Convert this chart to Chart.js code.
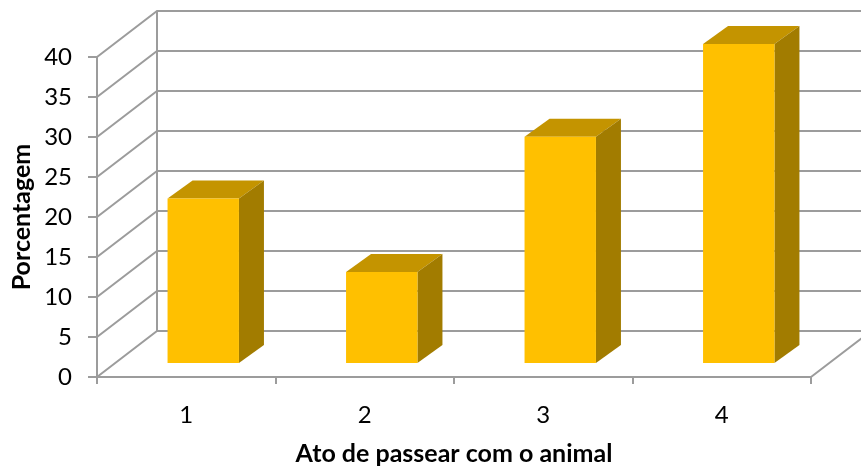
<!DOCTYPE html>
<html>
<head>
<meta charset="utf-8">
<script src="https://cdn.jsdelivr.net/npm/chart.js"></script>
<style>
  body { margin: 0; background: #fff; }
</style>
</head>
<body>
<canvas id="chart" width="861" height="469"></canvas>
<script>
// data
const categories = ['1', '2', '3', '4'];
const percentages = [20.7, 11.5, 28.4, 40];
const yTicks = [0, 5, 10, 15, 20, 25, 30, 35, 40];

const FONT = 'Lato, "Open Sans", sans-serif';
const GRID = '#9c9c9c';

// depth of the box (back wall) and of the bars, in pixels
const WALL_DX = 60, WALL_DY = -46;
const BAR_SHIFT_X = 17, BAR_SHIFT_Y = -13;
const BAR_DX = 25, BAR_DY = -18;

const wallsPlugin = {
    id: 'walls',
    beforeDatasetsDraw(chart) {
        const { ctx, chartArea } = chart;
        const y = chart.scales.y;
        const left = chartArea.left, right = chartArea.right, bottom = chartArea.bottom;
        ctx.save();
        ctx.strokeStyle = GRID;
        ctx.lineWidth = 2;
        ctx.beginPath();
        yTicks.forEach(v => {
            const py = y.getPixelForValue(v);
            ctx.moveTo(left, py);
            ctx.lineTo(left + WALL_DX, py + WALL_DY);
            ctx.lineTo(chart.width + 10, py + WALL_DY);
        });
        // back wall left edge
        ctx.moveTo(left + WALL_DX, y.getPixelForValue(40) + WALL_DY);
        ctx.lineTo(left + WALL_DX, y.getPixelForValue(0) + WALL_DY);
        // floor right edge
        ctx.moveTo(right, bottom);
        ctx.lineTo(right + WALL_DX, bottom + WALL_DY);
        ctx.stroke();
        ctx.restore();
    },
    beforeDatasetDraw(chart, args) {
        const ctx = chart.ctx;
        // top and side faces of each bar
        ctx.save();
        args.meta.data.forEach(bar => {
            const x0 = bar.x - bar.width / 2 + BAR_SHIFT_X;
            const x1 = bar.x + bar.width / 2 + BAR_SHIFT_X;
            const yt = bar.y + BAR_SHIFT_Y;
            const yb = bar.base + BAR_SHIFT_Y;
            ctx.fillStyle = '#C49400';
            ctx.beginPath();
            ctx.moveTo(x0, yt);
            ctx.lineTo(x1, yt);
            ctx.lineTo(x1 + BAR_DX, yt + BAR_DY);
            ctx.lineTo(x0 + BAR_DX, yt + BAR_DY);
            ctx.closePath();
            ctx.fill();
            ctx.fillStyle = '#A27C00';
            ctx.beginPath();
            ctx.moveTo(x1, yt);
            ctx.lineTo(x1 + BAR_DX, yt + BAR_DY);
            ctx.lineTo(x1 + BAR_DX, yb + BAR_DY);
            ctx.lineTo(x1, yb);
            ctx.closePath();
            ctx.fill();
        });
        ctx.restore();
        // front face is drawn by Chart.js, pushed into the box
        ctx.save();
        ctx.translate(BAR_SHIFT_X, BAR_SHIFT_Y);
    },
    afterDatasetDraw(chart) {
        chart.ctx.restore();
    }
};

new Chart(document.getElementById('chart'), {
    type: 'bar',
    data: {
        labels: categories,
        datasets: [{
            data: percentages,
            backgroundColor: '#FFC000',
            borderWidth: 0,
            categoryPercentage: 1,
            barPercentage: 0.4,
            clip: false
        }]
    },
    options: {
        responsive: false,
        animation: false,
        layout: { padding: { top: 57, right: 50, left: 0, bottom: 0 } },
        plugins: {
            legend: { display: false },
            tooltip: { enabled: false }
        },
        scales: {
            x: {
                afterFit(scale) { scale.height = 92; },
                grid: { drawOnChartArea: false, color: GRID, lineWidth: 2, tickLength: 7 },
                border: { color: GRID, width: 2 },
                ticks: { color: '#000', padding: 17, font: { family: FONT, size: 24 } },
                title: {
                    display: true,
                    text: 'Ato de passear com o animal',
                    color: '#000',
                    padding: { top: 0, bottom: 0 },
                    font: { family: FONT, size: 25, weight: 'bold' }
                }
            },
            y: {
                min: 0,
                max: 40,
                afterFit(scale) { scale.width = 97; },
                grid: { drawOnChartArea: false, color: GRID, lineWidth: 2, tickLength: 9 },
                border: { color: GRID, width: 2 },
                ticks: { stepSize: 5, color: '#000', padding: 16, font: { family: FONT, size: 24 } },
                title: {
                    display: true,
                    text: 'Porcentagem',
                    color: '#000',
                    padding: { top: 7, bottom: 0 },
                    font: { family: FONT, size: 25, weight: 'bold' }
                }
            }
        }
    },
    plugins: [wallsPlugin]
});
</script>
</body>
</html>
